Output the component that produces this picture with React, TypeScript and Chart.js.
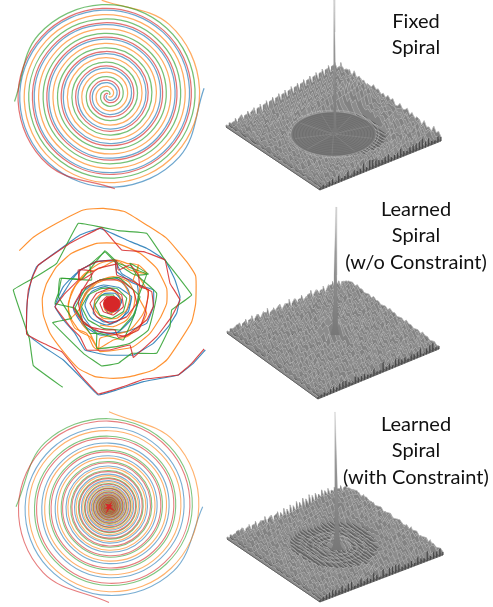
import React, { useEffect, useRef } from "react";
import { Chart, registerables } from "chart.js";

Chart.register(...registerables);

// ---------- data ----------
const labelsFixed = ["Fixed", "Spiral"];
const labelsLearned = ["Learned", "Spiral", "(w/o Constraint)"];
const labelsConstrained = ["Learned", "Spiral", "(with Constraint)"];

// fixed spiral: radius every 45 degrees, going clockwise inwards
const fixedBlue = [96,94.2,92.3,90.5,88.7,86.9,85.1,83.3,81.4,79.6,77.8,76,74.2,72.3,70.5,68.7,66.9,65.1,63.3,61.4,59.6,57.8,56,54.2,52.3,50.5,48.7,46.9,45.1,43.3,41.4,39.6,37.8,36,34.2,32.3,30.5,28.7,26.9,25.1,23.3,21.4,19.6,17.8,16,14.2,12.4,10.5,8.7,6.9,5.1,3.3,1.6];
const fixedOrange = [95,93.2,91.4,89.6,87.8,86,84.2,82.4,80.6,78.8,77,75.2,73.4,71.6,69.8,68,66.2,64.4,62.6,60.8,59,57.2,55.4,53.6,51.8,50,48.2,46.4,44.6,42.8,41,39.2,37.4,35.6,33.8,32,30.2,28.4,26.6,24.8,23,21.2,19.4,17.6,15.8,14,12.2,10.4,8.6,6.8,5,3.2,1.5];
const fixedRed = [94,92.2,90.4,88.6,86.8,85,83.2,81.4,79.6,77.8,76,74.2,72.4,70.6,68.8,67,65.2,63.4,61.6,59.8,58,56.2,54.4,52.6,50.8,49,47.2,45.4,43.6,41.8,40,38.2,36.4,34.6,32.8,31,29.2,27.4,25.6,23.8,22,20.2,18.4,16.6,14.8,13,11.2,9.4,7.6,5.8,4,2.4,1.2];
const fixedGreen = [94,92.2,90.5,88.7,86.9,85.1,83.3,81.5,79.7,77.9,76.1,74.3,72.5,70.7,68.9,67.1,65.3,63.5,61.7,59.9,58.1,56.3,54.5,52.7,50.9,49.1,47.3,45.5,43.7,41.9,40.1,38.3,36.5,34.7,32.9,31.1,29.3,27.5,25.7,23.9,22.1,20.3,18.5,16.7,14.9,13.1,11.3,9.5,7.7,5.9,4.1,2.5,1.2];
const fixedStartDeg = { blue: 86, orange: -4, red: 176, green: 266 };

// constrained spiral: radius every 45 degrees, tightening towards the centre
const conOrange = [95,92.4,89.8,87.4,85,82.6,80.3,78.1,76,73.9,71.9,69.9,68,66.1,64.3,62.5,60.8,59.1,57.5,55.9,54.4,52.9,51.4,50,48.6,47.3,46,44.7,43.5,42.3,41.1,40,38.9,37.8,36.8,35.8,34.8,33.8,32.9,32,31.1,30.2,29.4,28.6,27.8,27,26.3,25.6,24.9,24.2,23.5,22.9,22.2,21.6,21,20.5,19.9,19.3,18.8,18.3,17.8,17.3,16.8,16.3,15.9,15.5,15,14.6,14.2,13.8,13.4,13.1,12.7,12.4,12,11.7,11.4,11.1,10.8,10.5,10.2,9.9,9.6,9.3,9.1,8.8,8.6,8.3,8.1,7.9,7.7,7.5,7.3,7.1,6.9,6.7,6.5,6.3,6.1,5.9,5.7,5.5,5.3,5.1,4.9,4.7,4.5,4.3,4.1,3.9,3.7,3.5,3.3,3.1,2.9,2.7,2.5,2.3,2.1,1.9,1.7,1.5,1.3,1.1];
const conBlue = [93.7,91.2,88.7,86.3,83.9,81.6,79.4,77.2,75.1,73,71,69.1,67.2,65.4,63.6,61.8,60.1,58.5,56.9,55.3,53.8,52.3,50.9,49.5,48.1,46.8,45.5,44.3,43,41.9,40.7,39.6,38.5,37.5,36.4,35.4,34.5,33.5,32.6,31.7,30.8,30,29.2,28.4,27.6,26.9,26.1,25.4,24.7,24,23.4,22.7,22.1,21.5,20.9,20.3,19.8,19.2,18.7,18.2,17.7,17.2,16.7,16.3,15.8,15.4,15,14.6,14.2,13.8,13.4,13,12.7,12.3,12,11.7,11.3,11,10.7,10.4,10.1,9.9,9.6,9.3,9,8.8,8.5,8.3,8,7.8,7.6,7.4,7.2,7,6.8,6.6,6.4,6.2,6,5.8,5.6,5.4,5.2,5,4.8,4.6,4.4,4.2,4,3.8,3.6,3.4,3.2,3,2.8,2.6,2.4,2.2,2,1.8,1.6,1.4,1.2,1];
const conRed = [95.7,93.1,90.5,88,85.6,83.2,80.9,78.7,76.6,74.5,72.4,70.4,68.5,66.6,64.8,63,61.3,59.6,57.9,56.3,54.8,53.3,51.8,50.4,49,47.7,46.4,45.1,43.9,42.7,41.5,40.4,39.3,38.2,37.1,36.1,35.1,34.2,33.2,32.3,31.4,30.6,29.7,28.9,28.1,27.4,26.6,25.9,25.2,24.5,23.8,23.2,22.5,21.9,21.3,20.7,20.2,19.6,19.1,18.6,18.1,17.6,17.1,16.6,16.2,15.7,15.3,14.9,14.5,14.1,13.7,13.3,13,12.6,12.3,11.9,11.6,11.3,11,10.7,10.4,10.1,9.8,9.5,9.3,9,8.8,8.5,8.3,8,7.8,7.6,7.4,7.2,7,6.8,6.6,6.4,6.2,6,5.8,5.6,5.4,5.2,5,4.8,4.6,4.4,4.2,4,3.8,3.6,3.4,3.2,3,2.8,2.6,2.4,2.2,2,1.8,1.6,1.4,1.2,1];
const conGreen = [93,90.5,88,85.6,83.3,81,78.8,76.6,74.5,72.5,70.5,68.6,66.7,64.9,63.1,61.4,59.7,58.1,56.5,54.9,53.4,52,50.5,49.1,47.8,46.5,45.2,44,42.8,41.6,40.5,39.4,38.3,37.2,36.2,35.2,34.2,33.3,32.4,31.5,30.6,29.8,29,28.2,27.4,26.7,25.9,25.2,24.5,23.9,23.2,22.6,22,21.4,20.8,20.2,19.7,19.1,18.6,18.1,17.6,17.1,16.7,16.2,15.8,15.3,14.9,14.5,14.1,13.7,13.4,13,12.6,12.3,12,11.6,11.3,11,10.7,10.4,10.1,9.8,9.6,9.3,9,8.8,8.5,8.3,8.1,7.8,7.6,7.4,7.2,7,6.8,6.6,6.4,6.2,6,5.8,5.6,5.4,5.2,5,4.8,4.6,4.4,4.2,4,3.8,3.6,3.4,3.2,3,2.8,2.6,2.4,2.2,2,1.8,1.6,1.4,1.2,0.9];
const conStartDeg = { blue: 90, orange: 0, red: 180, green: 270 };
const conCoreX = [-1.6, 1.4, -1.2, 1.6, -0.4, 0.8, -1.5, 1.2];
const conCoreY = [0.3, -1.2, 1.4, 0.9, -1.7, 1.6, -0.6, -0.2];

// unconstrained spiral: traced vertices, in the coordinates of a 660 x 600 panel
const freeBlueX = [616,580,535,430,350,295,250,190,130,80,82,95,110,170,240,300,380,440,495,525,540,530,505,460,400,320,255,225,190,165,190,215,240,290,345,350,400,460,460,440,380,320,280,250,240,265,310,355,395,385,350,310,280,285,315,345,365,355,325,312,325,345,335];
const freeBlueY = [450,490,525,545,570,585,540,480,440,400,300,235,200,155,105,85,120,145,180,240,290,340,380,430,465,465,450,400,360,320,280,240,210,185,180,215,250,270,320,370,395,400,390,350,310,270,255,262,290,335,365,365,340,300,280,280,300,330,340,320,300,308,322];
const freeBlueMidX = [165,190,235,290,345,365,410,415,400,355,300,250,220,250,300,350,385,390,365,320,275,255,275,315,350,365];
const freeBlueMidY = [315,260,215,185,185,220,250,300,350,395,405,375,325,275,240,235,270,310,355,375,355,315,275,260,275,310];
const freeOrangeX = [58,100,170,250,310,375,440,500,560,587,587,575,535,500,460,390,340,285,235,190,150,130,127,140,170,215,290,350,420,470,500,500,480,450,400,350,300,295,270,240,210,205,225,260,300,350,380,415,400,420,415,440,420,380,340,295,270,245,240,260,290,330,370,390,380,350,310,285,285,310,340,360,358,335,315,312,330,345,338,325];
const freeOrangeY = [152,112,70,30,25,35,75,115,185,228,310,365,430,480,510,530,535,530,505,455,400,345,295,250,200,160,130,130,160,205,265,310,355,400,440,450,455,450,410,395,350,310,260,220,205,180,190,195,240,260,290,340,380,410,420,445,400,370,320,280,250,235,250,290,330,355,355,330,300,275,272,290,320,340,330,310,295,305,322,315];
const freeOrangeMidX = [210,225,260,280,295,300,340,390,430,445,415,415,440,390,365,345,300,250,215,205,210,240,255,290,340,385,405,400,380,340,300];
const freeOrangeMidY = [355,385,400,440,450,415,405,390,340,280,225,195,220,210,190,180,190,225,275,320,355,325,280,245,230,245,285,325,360,380,375];
const freeGreenX = [188,100,88,40,100,170,235,355,440,495,575,515,510,470,395,355,305,250,158,215,175,185,245,315,355,440,415,405,370,300,270,225,260,300,355,395,420,400,360,310,265,245,265,305,350,380,370,335,300,285,305,340,355,335,315];
const freeGreenY = [562,497,415,270,235,190,70,92,100,180,285,330,380,460,460,490,498,460,368,355,290,235,238,152,190,222,290,340,420,400,400,325,260,240,232,265,290,345,390,385,360,320,285,265,265,295,335,355,345,315,285,285,310,330,320];
const freeGreenMidX = [315,270,275,180,175,165,225,250,290,290,350,390,445,470,410,390,445,405,350,315];
const freeGreenMidY = [155,195,240,235,280,310,325,365,400,445,440,430,390,280,225,190,222,225,190,155];
const freeRedX = [612,575,535,430,370,295,245,185,130,80,80,85,100,115,210,305,365,430,495,510,540,515,470,400,390,330,260,240,210,165,195,235,240,290,345,350,390,455,460,440,375,355,300,250,235,245,300,360,400,410,380,330,290,270,290,330,365,370,340,310,300,320,345,352,335,320];
const freeRedY = [447,490,525,538,560,582,530,455,430,402,330,270,225,195,130,83,150,155,180,250,300,350,410,472,435,450,450,410,380,320,280,240,210,185,180,225,240,275,320,360,410,405,395,370,310,270,240,240,270,310,350,370,350,310,280,265,285,320,345,335,310,290,295,315,330,320];
const freeRedMidX = [350,355,390,415,420,445,435,415,355,345,320,270,240,220,235,260,280,235,240,270,295,350];
const freeRedMidY = [180,210,195,225,260,270,340,390,412,390,390,380,355,320,290,250,215,210,240,225,205,192];
const freeCoreX = [336,348,357,360,356,347,336,324,315,311,314,323,336];
const freeCoreY = [289,292,300,312,324,332,335,332,324,312,300,292,289];

// surface heights in pixels on a 40 x 40 grid, one base-36 digit per grid node
const fixedRows = [
"2323243224322342332423242332423324233232","3426352463526342573425364352635243425324","2547362538462574362536472543624735264352",
"5263748352637425364725364253746253742635","3847263746258364725473625463725846372536","6352847362537463825374637253846372548362",
"4739264837265384726354826374528374635247","7482637485263748352637485263748352647283",
"5938472639485264735264837264538472635284","8263947285364738526473825364728536472938","6947382649375284637284536372846372536482",
"9374826395274836251322342332473625384726","7a48362947385263411111111111243647285364","a5384729364827352111111111111242736482a5",
"8b4927385a36482511111111111111153748263a","b6a38472948372311111111111111111362538b4","9c5a4839275a384211111111111111111473628a",
"c7b49384a6384721111111111111111112536489","ad6b5a3948c48251111111111111111114362738","d8c6a4b5a93a6311111111111111111112538496",
"be7c5b4a7b5c4311111111111111111113627385","e9d7b6c5a8d6a411111111111111111114382947","cf8d6c5b9c7b5311111111111111111112639a48",
"fae8d7c6ad8c6311111111111111111114528364","dg9e7d6cb9d7b411111111111111111113749285","gbf9e8d7cae8c6311111111111111111254a3726",
"ehaf8e7dcbf9d7311111111111111111362a4859","hcgaf9e8dbgae8521111111111111113749263a5","fibg9f8ecagbf9741111111111111125a3847264",
"idhbgaf9edhcgaf841111111111223849a263847","gjchbg9fecibhc9e85322322334a5837462a5938","jeicgbhaf9jcidhbf97a8b6a95a84736582a4738",
"hkdicgahfbkdjeicg8b7a9c8a6b5938a47263a58","kfjdieg9hcjelfkdh9c8ab7ca93a7483a5a4937a","ilejdhfaigkfjcieh7ba9c8a6b4a8495836a4826",
"lgkfjcgbhajgkdjfbc9a8b7a9538a6473a6a4839","ehifdeaeg8ibhdgcae7b8a96b7a5849583a57364","iaeg9daf7d8fbdc9a8b7a9a8694a6385a4736a53",
"9c7a8b6c7a9b6a8b7a6a9768a5948a6a48375846","6a5c6a79587b8a696a7a56a67a5948739463a584",
];
const learnedRows = [
"2342342523453242352634235243523425324232","3526374625364537265374526374635274635243","2637485263748352647385264738526473825364",
"4738265374826537482653748253647382536472","5264738526473825364739264827364839264735","3749285364728536472846372846375826473826",
"6283746358264738462537482653847263958264","4738562947385264738526473928465374826537",
"7264958372649583746295837462938475264738","3958264738596274839526748396251748362957","6482739582647395827463958274639485726394",
"2947385629478536294783526947385269478352","5738264973852649738526497385364978253697","8264739582647395826473958264739586247395",
"3796248573962485739624857396258473962485","6284739562847395628473956284735962847356","4957362849573628495736284957368495736284",
"7362849573628495736b4d57362849573628495","2849573628495736c9ehb6384957362849573628","5738264957382649fdcgka57382649573826495",
"8264957382645a7bgkhmja6482649573826495738","3957264873952648bcg9ie7b957264873952648a","6483957264839572a6hcfa6483957264839572648",
"4728395748263958b7a6c94728395748263958263","7395826473958264a7396595826473958264739","2648395726483957265a48395726483957264839",
"5839264758392647583926475839264758392647","8264739582647395826473958264739582647395","3957284639572846395728463957284639572846",
"6482957364829573648295736482957364829573","4739582647395826473958264739582647395826","7264839572648395726483957264839572648395",
"2958374629583746295837462958374629583746","5837264958372649583726495837264958372649","8364958273649582736495827364958273649582",
"3748295637482956374829563748295637482956","6295374862953748629537486295374862953748","4638275946382759463827594638275946382759",
"3526374253637425263742536374252637425363","2342534234253423425342342534234253423423",
];
const constrainedRows = [
"2323423242342324232342324234232423242322","3425362435263425362435263425374263524324","2536473526374536472536473526384736253425",
"4736254837264738254736284736253746382536","3847362536472635473826354736482536472638","5263847364825374628364725384637425384627",
"3748526374635283746253847263748526374635","6253847263748526374635283746253847263748",
"4738625374826354736285374826354736285374","7263848526374632211212123526374835263748","3849263748526322112121212132637485263749",
"5738264835261221223232122112352637485263","8364926374522123322323322311243748526374","4957382635411232121212123232112635263748",
"7385264936212322112221122323212473526384","5948362735123211323232113212321248362736","8375946283121232232334322321132137485264",
"6485937262212321231231231223212326374859","9376485937121132132665313212212137485926","7485936374112231123a96a21321122263748592",
"a48596373821223213a7eb8612321221253748596","8596374825212123124b9c7413212122374859632","b59637485931212312369753123212138596374852",
"9637485963212223132123123221211485963748","c6485937463212321223223221232125963748592","a7596384752212321221221232312374859637485",
"d6a7495836412132322123232121135748596374","b7a68594738512123232323212113748596374859","c8b695a483749221212121212353748596a37485",
"a9c7a6b5948375322121123253648596a3748596","d8b7a695a4837463523243546374859637485963","b9a8c69ba5948574636475748596a37485963748",
"c8b7a96a5948a6374859637485963a485963a485","9a7b8a695a483a5948596a374859637a8596a374","b8a96a7b5948a5948a6374859a63748a5963748a",
"8a7b6a8596a48375a48596a374859637485a6374","a69b7a596a48596a3748596a37485a3748596a37","7a5968a7596a4859637485a63748596a374859a6",
"5768596a4859637485963748596a3748596a3748","3456345645345634563456345345634563453453",
];

// spike outlines: height above the floor and half width
const fixedSpikeH = [0, 4, 10, 25, 60, 100, 132];
const fixedSpikeW = [4, 1.8, 1.3, 1.1, 0.9, 0.7, 0.4];
const learnedSpikeH = [0, 6, 15, 30, 60, 90, 128];
const learnedSpikeW = [4.5, 3, 2.5, 2.1, 1.5, 0.9, 0.2];
const constrainedSpikeH = [0, 3, 8, 16, 30, 60, 100, 138];
const constrainedSpikeW = [7, 4.5, 3, 2.4, 1.9, 1.4, 0.8, 0.2];

// rings on the surfaces, in grid units
const ringAngles = [0,30,60,90,120,150,180,210,240,270,300,330,360];
const fixedDarkRings = [1.5,2.3,3.1,3.9,4.7,5.5,6.3,7.1,7.9,8.7,9.5,10.2];
const fixedLightRings = [10.9, 11.6];
const fixedSpokes = [15,50,95,130,170,205,250,290,335];
const constrainedDarkRings = [3.2,4.8,6.4,8.4];
const constrainedLightRings = [4,5.6,7.4];

// ---------- drawing ----------
const RGB: Record<string, string> = { blue: "31,119,180", orange: "255,127,14", green: "44,160,44", red: "214,39,40" };
type Pt = { x: number; y: number };

function polarArm(radii: number[], startDeg: number): Pt[] {
  return radii.map((r, i) => {
    const a = ((startDeg + i * 45) * Math.PI) / 180;
    return { x: r * Math.sin(a), y: r * Math.cos(a) };
  });
}
function zipXY(xs: number[], ys: number[]): Pt[] {
  return xs.map((x, i) => ({ x, y: ys[i] }));
}
function lineSet(data: Pt[], color: string, width: number, tension = 0, extra: object = {}) {
  return { data, borderColor: color, borderWidth: width, tension, showLine: true, pointRadius: 0, fill: false, clip: false, ...extra };
}

function useChart(build: (ctx: CanvasRenderingContext2D) => { datasets: any[]; scales: any }) {
  const ref = useRef<HTMLCanvasElement>(null);
  useEffect(() => {
    const canvas = ref.current!;
    const { datasets, scales } = build(canvas.getContext("2d")!);
    const chart = new Chart(canvas, {
      type: "scatter",
      data: { datasets: [...datasets].reverse() },
      options: {
        animation: false,
        responsive: false,
        layout: { padding: 0 },
        plugins: { legend: { display: false }, tooltip: { enabled: false } },
        scales: {
          x: { type: "linear", display: false, ...scales.x },
          y: { type: "linear", display: false, ...scales.y },
        },
      },
    } as any);
    return () => chart.destroy();
  }, []);
  return ref;
}

function Box({ left, top, width, height, canvasRef }: any) {
  return <canvas ref={canvasRef} width={width} height={height} style={{ position: "absolute", left, top, width, height }} />;
}

function PolarSpiral({ top, height, cx, cy, arms, starts, alpha, width, core }: any) {
  const ref = useChart(() => {
    const sets = (["blue", "orange", "green", "red"] as const).map((k) =>
      lineSet(polarArm(arms[k], starts[k]), `rgba(${RGB[k]},${alpha})`, width, 0.375)
    );
    if (core) sets.push(lineSet(core, `rgb(${RGB.red})`, 2));
    return {
      datasets: sets,
      scales: { x: { min: -cx, max: 220 - cx }, y: { min: cy - height, max: cy } },
    };
  });
  return <Box left={0} top={top} width={220} height={height} canvasRef={ref} />;
}

function FreeSpiral({ top }: { top: number }) {
  const w = 1.15;
  const ref = useChart(() => ({
    datasets: [
      lineSet(zipXY(freeBlueX, freeBlueY), `rgba(${RGB.blue},0.85)`, w, 0.08),
      lineSet(zipXY(freeBlueMidX, freeBlueMidY), `rgba(${RGB.blue},0.85)`, w, 0.2),
      lineSet(zipXY(freeOrangeX, freeOrangeY), `rgba(${RGB.orange},0.85)`, w, 0.15),
      lineSet(zipXY(freeOrangeMidX, freeOrangeMidY), `rgba(${RGB.orange},0.85)`, w, 0.2),
      lineSet(zipXY(freeGreenX, freeGreenY), `rgba(${RGB.green},0.85)`, w, 0.05),
      lineSet(zipXY(freeGreenMidX, freeGreenMidY), `rgba(${RGB.green},0.85)`, w, 0.1),
      lineSet(zipXY(freeRedX, freeRedY), `rgba(${RGB.red},0.85)`, w, 0.05),
      lineSet(zipXY(freeRedMidX, freeRedMidY), `rgba(${RGB.red},0.85)`, w, 0.15),
      lineSet(zipXY(freeCoreX, freeCoreY), `rgb(${RGB.red})`, 1, 0.3, { fill: "shape", backgroundColor: `rgb(${RGB.red})` }),
    ],
    scales: { x: { min: 0, max: 660 }, y: { min: 0, max: 600, reverse: true } },
  }));
  return <Box left={0} top={top} width={220} height={200} canvasRef={ref} />;
}

function Surface({ top, height, L, T, B, rows, spikeH, spikeW, tip, base, dark, light, spokes, disc, ringAlpha = 0.35 }: any) {
  const ref = useChart((ctx) => {
    const n = rows.length;
    const heights: number[][] = rows.map((s: string) => Array.from({ length: n }, (_, j) => parseInt(s[j] ?? "3", 36)));
    const at = (i: number, j: number, h: number): Pt => ({
      x: L.x + (i / (n - 1)) * (T.x - L.x) + (j / (n - 1)) * (B.x - L.x),
      y: L.y + (i / (n - 1)) * (T.y - L.y) + (j / (n - 1)) * (B.y - L.y) - h,
    });
    const c = (n - 1) / 2;
    const ring = (r: number) =>
      ringAngles.map((d) => at(c + r * Math.cos((d * Math.PI) / 180), c + r * Math.sin((d * Math.PI) / 180), 0));
    const R = n - 1;
    const sets: any[] = [];
    sets.push(lineSet([at(0, 0, 0), at(R, 0, 0), at(R, R, 0), at(0, R, 0), at(0, 0, 0)], "#777", 1, 0, { fill: "shape", backgroundColor: "#6e6e6e" }));
    // waterfall: each row hides what lies behind it, from the back edge to the front edge
    for (let i = n - 1; i >= 0; i--) {
      const crest = heights[i].map((h, j) => at(i, j, h));
      const outline = [...crest, at(i, R, 0), at(i, 0, 0), crest[0]];
      sets.push(lineSet(outline, "rgba(58,58,58,0.6)", 0.7, 0, { fill: "shape", backgroundColor: i % 2 ? "#828282" : "#8c8c8c" }));
      sets.push(lineSet(crest, "rgba(222,222,222,0.85)", 0.65));
    }
    if (disc) sets.push(lineSet(ring(disc), "#787878", 0.5, 0.35, { fill: "shape", backgroundColor: "#787878" }));
    (dark || []).forEach((r: number) => sets.push(lineSet(ring(r), `rgba(70,70,70,${ringAlpha})`, 0.6, 0.35)));
    (spokes || []).forEach((d: number) => {
      const a = (d * Math.PI) / 180;
      sets.push(lineSet([at(c + 0.6 * Math.cos(a), c + 0.6 * Math.sin(a), 0), at(c + 10 * Math.cos(a), c + 10 * Math.sin(a), 0)], "rgba(190,190,190,0.3)", 0.6));
    });
    (light || []).forEach((r: number) => sets.push(lineSet(ring(r), `rgba(200,200,200,${ringAlpha + 0.15})`, 0.8, 0.35)));

    const H = spikeH[spikeH.length - 1];
    const sx = (h: number) => base.x + ((tip.x - base.x) * h) / H;
    const left = spikeH.map((h: number, k: number) => ({ x: sx(h) - spikeW[k], y: base.y - h }));
    const right = spikeH.map((h: number, k: number) => ({ x: sx(h) + spikeW[k], y: base.y - h })).reverse();
    const outline = [...left, ...right, left[0]];
    const grad = ctx.createLinearGradient(0, base.y - H - top, 0, base.y - top);
    grad.addColorStop(0, "#e0e0e0");
    grad.addColorStop(0.35, "#9a9a9a");
    grad.addColorStop(1, "#777777");
    sets.push(lineSet(outline, "rgba(120,120,120,0.35)", 0.4, 0, { fill: "shape", backgroundColor: grad }));
    return {
      datasets: sets,
      scales: { x: { min: 220, max: 493 }, y: { min: top, max: top + height, reverse: true } },
    };
  });
  return <Box left={220} top={top} width={273} height={height} canvasRef={ref} />;
}

function Caption({ lines, top }: { lines: string[]; top: number }) {
  return (
    <div style={{ position: "absolute", left: 316, width: 200, top, textAlign: "center", font: "20px/26.3px Lato, sans-serif", color: "#111", whiteSpace: "nowrap" }}>
      {lines.map((l) => (
        <div key={l}>{l}</div>
      ))}
    </div>
  );
}

export default function App() {
  return (
    <div style={{ position: "absolute", left: 0, top: 0, width: 493, height: 607, background: "#fff", overflow: "hidden" }}>
      <PolarSpiral top={0} height={200} cx={108.3} cy={95} starts={fixedStartDeg} alpha={0.65} width={1.25}
        arms={{ blue: fixedBlue, orange: fixedOrange, green: fixedGreen, red: fixedRed }} />
      <FreeSpiral top={200} />
      <PolarSpiral top={400} height={207} cx={109} cy={106.7} starts={conStartDeg} alpha={0.6} width={1.1}
        arms={{ blue: conBlue, orange: conOrange, green: conGreen, red: conRed }} core={zipXY(conCoreX, conCoreY)} />

      <Surface top={0} height={200} L={{ x: 226, y: 127 }} T={{ x: 347, y: 78 }} B={{ x: 320, y: 190 }} rows={fixedRows}
        spikeH={fixedSpikeH} spikeW={fixedSpikeW} tip={{ x: 334 }} base={{ x: 335, y: 132 }}
        disc={10.8} dark={fixedDarkRings} light={fixedLightRings} spokes={fixedSpokes} />
      <Surface top={200} height={200} L={{ x: 227, y: 333 }} T={{ x: 348, y: 283 }} B={{ x: 318, y: 399 }} rows={learnedRows}
        spikeH={learnedSpikeH} spikeW={learnedSpikeW} tip={{ x: 336 }} base={{ x: 335, y: 335 }} />
      <Surface top={400} height={207} L={{ x: 227, y: 539 }} T={{ x: 350, y: 492 }} B={{ x: 320, y: 602 }} rows={constrainedRows}
        spikeH={constrainedSpikeH} spikeW={constrainedSpikeW} tip={{ x: 335 }} base={{ x: 337, y: 550 }}
        dark={constrainedDarkRings} light={constrainedLightRings} ringAlpha={0.25} />

      <Caption lines={labelsFixed} top={7} />
      <Caption lines={labelsLearned} top={195} />
      <Caption lines={labelsConstrained} top={410} />
    </div>
  );
}
